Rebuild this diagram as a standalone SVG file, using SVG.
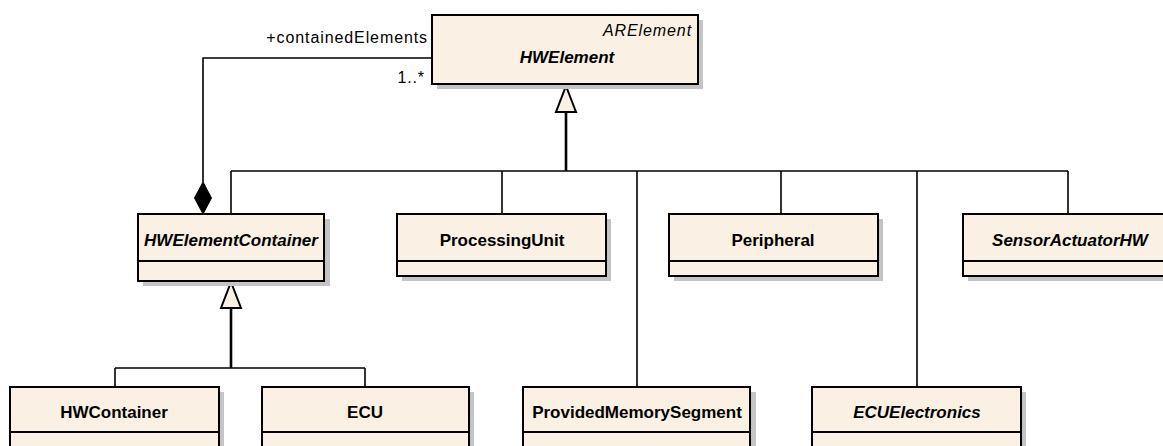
<svg xmlns="http://www.w3.org/2000/svg" width="1163" height="446" viewBox="0 0 1163 446">
<style>
.box{fill:#faf0e3;stroke:#000;stroke-width:2}
.shadow{fill:#c4c4c4}
.div{stroke:#000;stroke-width:2}
.t{font-family:"Liberation Sans",Arial,sans-serif;font-size:17px;font-weight:bold;text-anchor:middle;fill:#000}
.ti{font-style:italic}
.lbl{font-family:"Liberation Sans",Arial,sans-serif;font-size:16px;fill:#000;letter-spacing:0.9px}
.ln{fill:none;stroke:#000;stroke-width:1.6}
.thick{fill:none;stroke:#000;stroke-width:2.6}
.gen{fill:#faf0e3;stroke:#000;stroke-width:2}
</style>
<rect width="1163" height="446" fill="#fff"/>
<g id="connectors">
  <polyline class="ln" points="432,58 203,58 203,182"/>
  <polygon points="203,182 211.5,198 203,214 194.5,198" fill="#000" stroke="#000" stroke-width="1"/>
  <line class="thick" x1="566" y1="112" x2="566" y2="171"/>
  <line class="ln" x1="231" y1="171" x2="1068" y2="171"/>
  <line class="ln" x1="231" y1="171" x2="231" y2="214"/>
  <line class="ln" x1="502" y1="171" x2="502" y2="214"/>
  <line class="ln" x1="637" y1="171" x2="637" y2="387"/>
  <line class="ln" x1="781" y1="171" x2="781" y2="214"/>
  <line class="ln" x1="917" y1="171" x2="917" y2="387"/>
  <line class="ln" x1="1068" y1="171" x2="1068" y2="214"/>
  <polygon class="gen" points="566,86 576,112 556,112"/>
  <line class="thick" x1="231" y1="308" x2="231" y2="368"/>
  <line class="ln" x1="115" y1="368" x2="365" y2="368"/>
  <line class="ln" x1="115" y1="368" x2="115" y2="387"/>
  <line class="ln" x1="365" y1="368" x2="365" y2="387"/>
  <polygon class="gen" points="231,282 241,308 221,308"/>
  <text class="lbl" x="428" y="43" text-anchor="end">+containedElements</text>
  <text class="lbl" x="425" y="83" text-anchor="end">1..*</text>
</g>
<g id="HWElement">
  <rect class="shadow" x="437" y="20" width="266" height="69"/>
  <rect class="box" x="432" y="15" width="266" height="69"/>
  <text class="lbl ti" x="692" y="36" text-anchor="end">ARElement</text>
  <text class="t ti" x="567" y="63">HWElement</text>
</g>
<g id="HWElementContainer">
  <rect class="shadow" x="143" y="219" width="187" height="67"/>
  <rect class="box" x="138" y="214" width="186" height="67"/>
  <line class="div" x1="138" y1="261" x2="324" y2="261"/>
  <text class="t ti" x="231" y="246">HWElementContainer</text>
</g>
<g id="ProcessingUnit">
  <rect class="shadow" x="402" y="219" width="209" height="62"/>
  <rect class="box" x="397" y="214" width="209" height="62"/>
  <line class="div" x1="397" y1="261" x2="606" y2="261"/>
  <text class="t" x="502" y="246">ProcessingUnit</text>
</g>
<g id="Peripheral">
  <rect class="shadow" x="674" y="219" width="209" height="62"/>
  <rect class="box" x="669" y="214" width="209" height="62"/>
  <line class="div" x1="669" y1="261" x2="878" y2="261"/>
  <text class="t" x="773" y="246">Peripheral</text>
</g>
<g id="SensorActuatorHW">
  <rect class="shadow" x="968" y="219" width="209" height="62"/>
  <rect class="box" x="963" y="214" width="209" height="62"/>
  <line class="div" x1="963" y1="261" x2="1172" y2="261"/>
  <text class="t ti" x="1070" y="246">SensorActuatorHW</text>
</g>
<g id="HWContainer">
  <rect class="shadow" x="15" y="392" width="209" height="70"/>
  <rect class="box" x="10" y="387" width="209" height="70"/>
  <line class="div" x1="10" y1="432" x2="219" y2="432"/>
  <text class="t" x="114" y="418">HWContainer</text>
</g>
<g id="ECU">
  <rect class="shadow" x="267" y="392" width="207" height="70"/>
  <rect class="box" x="262" y="387" width="207" height="70"/>
  <line class="div" x1="262" y1="432" x2="469" y2="432"/>
  <text class="t" x="365" y="418">ECU</text>
</g>
<g id="ProvidedMemorySegment">
  <rect class="shadow" x="528" y="392" width="228" height="70"/>
  <rect class="box" x="523" y="387" width="227" height="70"/>
  <line class="div" x1="523" y1="432" x2="750" y2="432"/>
  <text class="t" x="637" y="418">ProvidedMemorySegment</text>
</g>
<g id="ECUElectronics">
  <rect class="shadow" x="817" y="392" width="209" height="70"/>
  <rect class="box" x="812" y="387" width="209" height="70"/>
  <line class="div" x1="812" y1="432" x2="1021" y2="432"/>
  <text class="t ti" x="917" y="418">ECUElectronics</text>
</g>
</svg>
